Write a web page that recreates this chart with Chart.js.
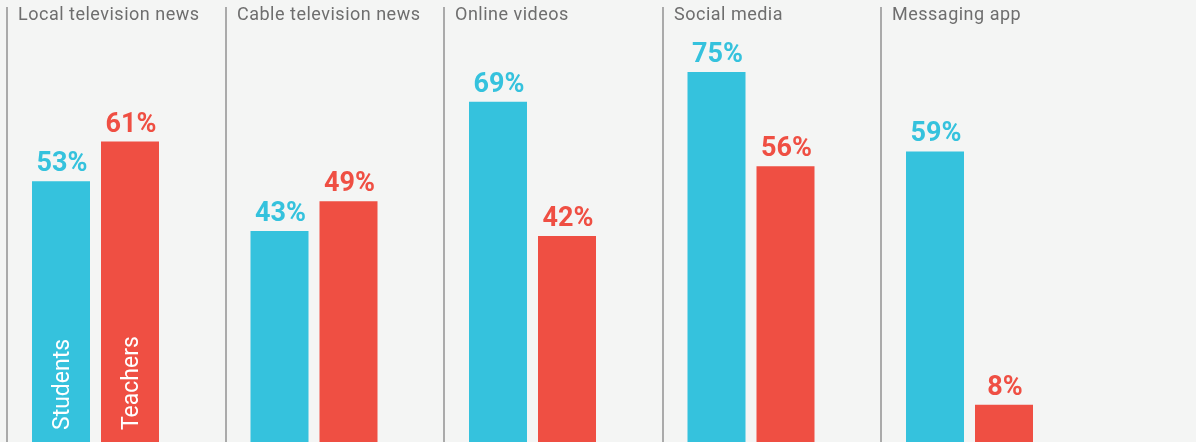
<!DOCTYPE html>
<html>
<head>
<meta charset="utf-8">
<script src="https://cdn.jsdelivr.net/npm/chart.js@4/dist/chart.umd.min.js"></script>
<style>
  html, body { margin: 0; padding: 0; background: #f4f5f4; }
  #wrap { position: relative; width: 1196px; height: 442px; }
</style>
</head>
<body>
<div id="wrap"><canvas id="chart" width="1196" height="442"></canvas></div>
<script>
// News sources used, by group
const categories = ['Local television news', 'Cable television news', 'Online videos', 'Social media', 'Messaging app'];
const seriesNames = ['Students', 'Teachers'];
const students = [53, 43, 69, 75, 59];
const teachers = [61, 49, 42, 56, 8];

const BLUE = '#35c2dd';
const RED = '#ef4f43';

// Panel separators, panel titles, value labels and the in-bar series names
const panelDecor = {
  id: 'panelDecor',
  afterDatasetsDraw(chart) {
    const ctx = chart.ctx;
    const xs = chart.scales.x;
    const bottom = chart.height;
    ctx.save();
    categories.forEach((name, i) => {
      const lx = Math.round(xs.getPixelForValue(i) - 88.5);
      ctx.fillStyle = '#aaaaaa';
      ctx.fillRect(lx - 1, 7, 2, bottom - 7);
      ctx.fillStyle = '#6e6e6e';
      ctx.font = '18px Roboto';
      ctx.letterSpacing = '0.5px';
      ctx.textAlign = 'left';
      ctx.textBaseline = 'alphabetic';
      ctx.fillText(name, lx + 11, 20);
      ctx.letterSpacing = '0px';
    });
    chart.data.datasets.forEach((ds, di) => {
      const meta = chart.getDatasetMeta(di);
      meta.data.forEach((bar, i) => {
        ctx.fillStyle = ds.backgroundColor;
        ctx.font = 'bold 27px Roboto';
        ctx.textAlign = 'center';
        ctx.textBaseline = 'alphabetic';
        ctx.fillText(ds.data[i] + '%', bar.x + 1, bar.y - 10);
      });
      // series name written up the first bar of each series
      const first = meta.data[0];
      ctx.save();
      ctx.translate(first.x + 8, bottom - 12);
      ctx.rotate(-Math.PI / 2);
      ctx.fillStyle = '#ffffff';
      ctx.font = '23px Roboto';
      ctx.textAlign = 'left';
      ctx.fillText(ds.label, 0, 0);
      ctx.restore();
    });
    ctx.restore();
  }
};

new Chart(document.getElementById('chart'), {
  type: 'bar',
  data: {
    labels: categories,
    datasets: [
      { label: seriesNames[0], data: students, backgroundColor: BLUE, clip: false },
      { label: seriesNames[1], data: teachers, backgroundColor: RED, clip: false }
    ]
  },
  options: {
    responsive: false,
    animation: false,
    categoryPercentage: 138 / 218.5,
    barPercentage: 58 / 69,
    layout: { padding: { left: 95.5, right: 226.5, top: 0, bottom: 0 } },
    plugins: { legend: { display: false }, tooltip: { enabled: false } },
    scales: {
      x: { type: 'category', offset: false, display: false, grid: { display: false } },
      y: { min: 0.5, max: 89.5, display: false, grid: { display: false } }
    }
  },
  plugins: [panelDecor]
});
</script>
</body>
</html>
